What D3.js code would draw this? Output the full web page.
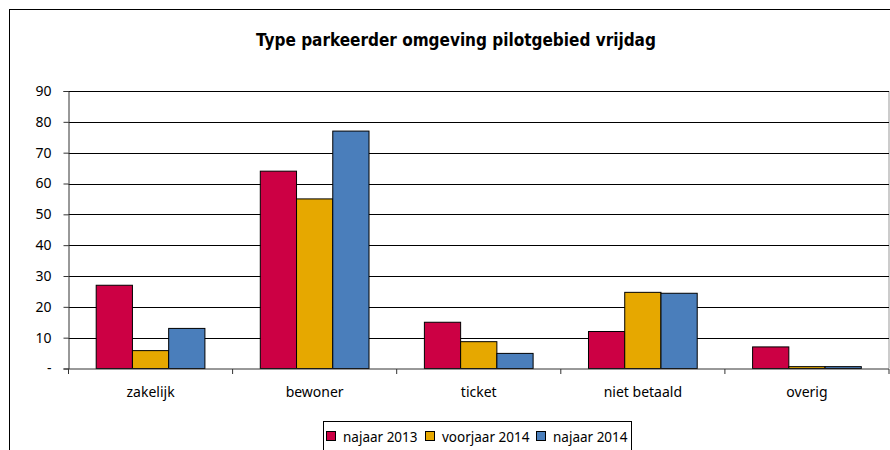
<!DOCTYPE html>
<html>
<head>
<meta charset="utf-8">
<script src="https://cdnjs.cloudflare.com/ajax/libs/d3/7.8.5/d3.min.js"></script>
<style>
  body { margin: 0; background: #fff; }
  svg { display: block; font-family: "Noto Sans", "DejaVu Sans", sans-serif; }
</style>
</head>
<body>
<div id="chart"></div>
<script>
// categories and series
var categories = ["zakelijk", "bewoner", "ticket", "niet betaald", "overig"];
var seriesNames = ["najaar 2013", "voorjaar 2014", "najaar 2014"];
var seriesColors = ["#cc0044", "#e6a800", "#4a7ebb"];
var najaar2013 = [27, 64, 15, 12, 7];
var voorjaar2014 = [5.8, 55, 8.7, 24.7, 0.6];
var najaar2014 = [13, 77, 4.9, 24.4, 0.6];
var yTicks = [0, 10, 20, 30, 40, 50, 60, 70, 80, 90];

var seriesValues = [najaar2013, voorjaar2014, najaar2014];

var width = 890, height = 450;
var plot = {left: 68.5, right: 889, top: 91, bottom: 368.5};

var svg = d3.select("#chart")
    .append("svg")
    .attr("width", width)
    .attr("height", height)

// outer chart border (right and bottom are cut off)
svg.append("rect")
    .attr("x", 9.5)
    .attr("y", 9.5)
    .attr("width", 900)
    .attr("height", 500)
    .style("fill", "#fff")
    .style("stroke", "#000")

svg.append("text")
    .attr("x", 456)
    .attr("y", 46)
    .attr("text-anchor", "middle")
    .style("font-family", "'DejaVu Sans Condensed', 'DejaVu Sans', sans-serif")
    .style("font-size", "17px")
    .style("font-weight", "bold")
    .text("Type parkeerder omgeving pilotgebied vrijdag")

var gap = 0.3375;
var x0 = d3.scaleBand()
    .domain(categories)
    .range([plot.left, plot.right])
    .paddingInner(gap)
    .paddingOuter(gap / 2);

var x1 = d3.scaleBand()
    .domain(d3.range(seriesNames.length))
    .range([0, x0.bandwidth()])
    .padding(0);

var y = d3.scaleLinear()
    .domain([0, 90])
    .range([plot.bottom, plot.top]);

// plot area border on the right
svg.append("line")
    .attr("x1", plot.right)
    .attr("x2", plot.right)
    .attr("y1", plot.top)
    .attr("y2", plot.bottom)
    .style("stroke", "#999")

// gridlines
svg.append("g")
    .selectAll("line")
    .data(yTicks.slice(1))
    .enter().append("line")
    .attr("x1", plot.left)
    .attr("x2", plot.right)
    .attr("y1", function(d){ return Math.round(y(d)) + 0.5; })
    .attr("y2", function(d){ return Math.round(y(d)) + 0.5; })
    .style("stroke", "#000")

// y axis
var yAxis = d3.axisLeft(y)
    .tickValues(yTicks)
    .tickSize(5)
    .tickFormat(function(d){ return d === 0 ? "-" : d; });

var gy = svg.append("g")
    .attr("transform", "translate(" + plot.left + ",0)")
    .call(yAxis);
gy.select(".domain").style("stroke", "#333");
gy.selectAll(".tick line").style("stroke", "#333");
gy.selectAll(".tick text")
    .attr("x", -17)
    .style("font-size", "14px")
    .style("font-family", "'Noto Sans', sans-serif")
    .style("fill", "#000");

// bars
var groups = svg.append("g")
    .selectAll("g")
    .data(categories)
    .enter().append("g")
    .attr("transform", function(d){ return "translate(" + x0(d) + ",0)"; });

groups.selectAll("rect")
    .data(function(d, i){
        return seriesValues.map(function(vals, s){ return {s: s, v: vals[i]}; });
    })
    .enter().append("rect")
    .attr("x", function(d){ return x1(d.s); })
    .attr("y", function(d){ return y(d.v); })
    .attr("width", x1.bandwidth())
    .attr("height", function(d){ return y(0) - y(d.v); })
    .style("fill", function(d){ return seriesColors[d.s]; })
    .style("stroke", "#000")
    .style("stroke-width", 1)

// x axis with ticks between categories
var xAxisY = plot.bottom + 0.5;
svg.append("line")
    .attr("x1", plot.left)
    .attr("x2", plot.right)
    .attr("y1", xAxisY)
    .attr("y2", xAxisY)
    .style("stroke", "#333")

var step = x0.step();
svg.append("g")
    .selectAll("line")
    .data(d3.range(categories.length + 1))
    .enter().append("line")
    .attr("x1", function(i){ return plot.left + i * step; })
    .attr("x2", function(i){ return plot.left + i * step; })
    .attr("y1", xAxisY)
    .attr("y2", xAxisY + 5)
    .style("stroke", "#333")

svg.append("g")
    .selectAll("text")
    .data(categories)
    .enter().append("text")
    .attr("x", function(d){ return x0(d) + x0.bandwidth() / 2; })
    .attr("y", 397)
    .attr("text-anchor", "middle")
    .style("font-size", "14px")
    .text(function(d){ return d; })

// legend
var legend = svg.append("g");
legend.append("rect")
    .attr("x", 323.5)
    .attr("y", 421.5)
    .attr("width", 308)
    .attr("height", 40)
    .style("fill", "#fff")
    .style("stroke", "#000")

var legendX = [326, 425, 536];
seriesNames.forEach(function(name, i){
    legend.append("rect")
        .attr("x", legendX[i] + 0.5)
        .attr("y", 431.5)
        .attr("width", 9)
        .attr("height", 9)
        .style("fill", seriesColors[i])
        .style("stroke", "#000")
    legend.append("text")
        .attr("x", legendX[i] + 17)
        .attr("y", 442)
        .style("font-size", "13.5px")
        .text(name)
});
</script>
</body>
</html>
